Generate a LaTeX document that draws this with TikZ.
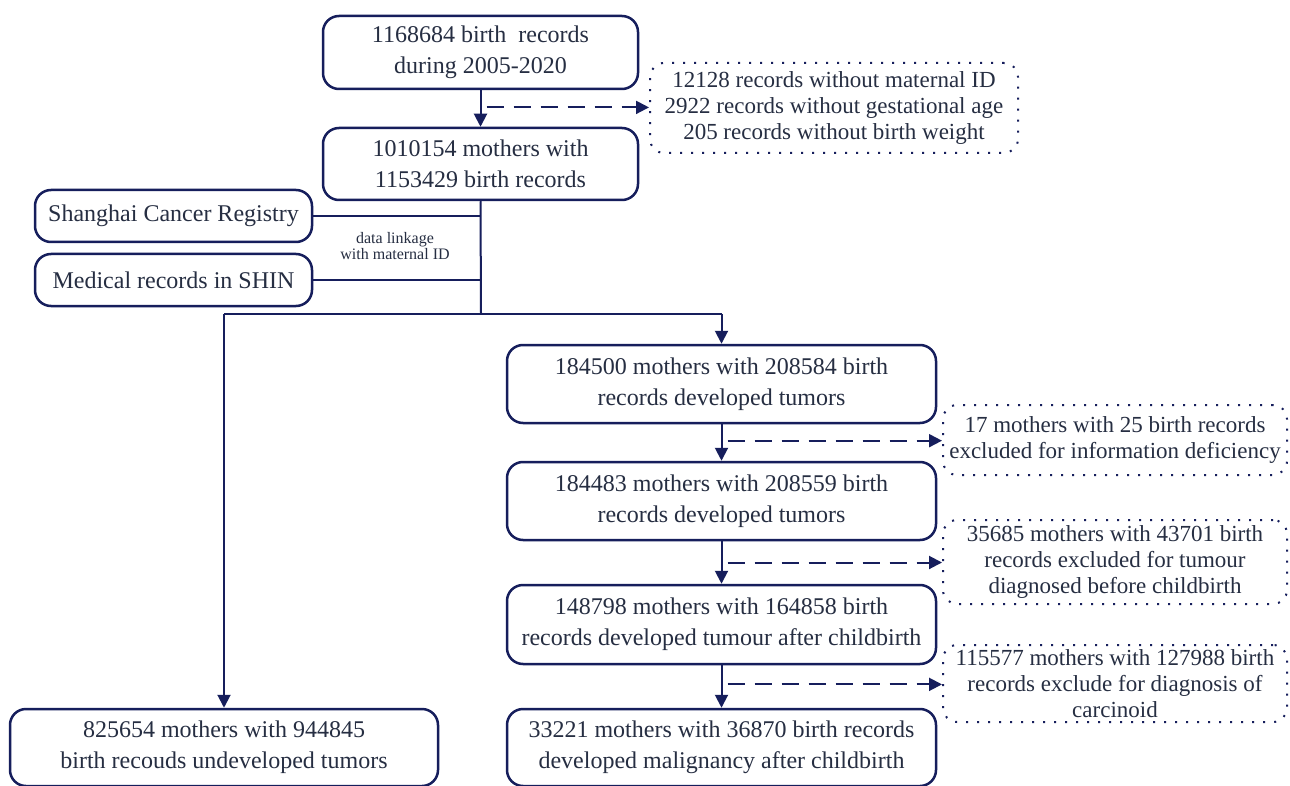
\documentclass[tikz,border=0pt]{standalone}
\usepackage{fontspec}
\setmainfont{Liberation Serif}
\usetikzlibrary{arrows.meta,calc}
\definecolor{lc}{RGB}{22,30,92}
\definecolor{tc}{RGB}{38,46,66}
\begin{document}
\begin{tikzpicture}[x=1pt,y=-1pt,
  box/.style={draw=lc, line width=2.5pt, rounded corners=16pt, align=center, text=tc,
    inner sep=0pt, font=\fontsize{24}{31}\selectfont},
  dbox/.style={draw=lc, line width=2pt, dash pattern=on 2pt off 9pt, rounded corners=14pt,
    align=center, text=tc, inner sep=0pt, font=\fontsize{23}{26}\selectfont},
  conn/.style={draw=lc, line width=2pt},
  arr/.style={conn, -{Triangle[length=13pt,width=13pt]}},
  darr/.style={draw=lc, line width=2pt, dash pattern=on 17pt off 10pt, -{Triangle[length=13pt,width=13pt]}},
  small/.style={text=tc, align=center, inner sep=0pt, font=\fontsize{16}{16}\selectfont}
]
\useasboundingbox (0,0) rectangle (1290,786);
\fill[white] (0,0) rectangle (1290,786);

\node[box, minimum width=315pt, minimum height=73pt] (A) at (480.5,52.5) {1168684 birth\ \ records\\during 2005-2020};
\node[box, minimum width=315pt, minimum height=72pt] (B) at (480.5,164) {1010154 mothers with\\1153429 birth records};
\node[dbox, minimum width=368pt, minimum height=90pt] (D1) at (834,108) {12128 records without maternal ID\\2922 records without gestational age\\205 records without birth weight};

\node[box, minimum width=277pt, minimum height=52pt] (SCR) at (173.5,216) {Shanghai Cancer Registry};
\node[box, minimum width=277pt, minimum height=52pt] (MED) at (173.5,280) {Medical records in SHIN};
\node[small] (lbl) at (395,246) {data linkage\\with maternal ID};

\node[box, minimum width=429pt, minimum height=78pt] (C) at (721.5,384) {184500 mothers with 208584 birth\\records developed tumors};
\node[box, minimum width=429pt, minimum height=78pt] (E) at (721.5,501) {184483 mothers with 208559 birth\\records developed tumors};
\node[box, minimum width=429pt, minimum height=79pt] (F) at (721.5,624.5) {148798 mothers with 164858 birth\\records developed tumour after childbirth};
\node[box, minimum width=429pt, minimum height=77pt] (G) at (721.5,747.5) {33221 mothers with 36870 birth records\\developed malignancy after childbirth};
\node[box, minimum width=428pt, minimum height=77pt] (H) at (224,747.5) {825654 mothers with 944845\\birth recouds undeveloped tumors};

\node[dbox, minimum width=344pt, minimum height=70pt] (D2) at (1115,440) {17 mothers with 25 birth records\\excluded for information deficiency};
\node[dbox, minimum width=344pt, minimum height=84pt] (D3) at (1115,562) {35685 mothers with 43701 birth\\records excluded for tumour\\diagnosed before childbirth};
\node[dbox, minimum width=344pt, minimum height=77pt] (D4) at (1115,683.5) {115577 mothers with 127988 birth\\records exclude for diagnosis of\\carcinoid};

% main flow
\draw[arr] (A) -- (B);
\coordinate (m1) at ($(A.south)!0.47!(B.north)+(6,0)$);
\draw[darr] (m1) -- (m1 -| D1.west);

\coordinate (j) at (481,314);
\draw[conn] (B.south) -- (j);
\draw[conn] (SCR.east) -- (SCR.east -| j);
\draw[conn] (MED.east) -- (MED.east -| j);
\draw[conn] (j -| H) -- (j -| C);
\draw[arr] (j -| H) -- (H);
\draw[arr] (j -| C) -- (C);

\draw[arr] (C) -- (E);
\coordinate (m2) at ($(C.south)!0.45!(E.north)+(6,0)$);
\draw[darr] (m2) -- (m2 -| D2.west);
\draw[arr] (E) -- (F);
\coordinate (m3) at ($(E.south)!0.5!(F.north)+(6,0)$);
\draw[darr] (m3) -- (m3 -| D3.west);
\draw[arr] (F) -- (G);
\coordinate (m4) at ($(F.south)!0.45!(G.north)+(6,0)$);
\draw[darr] (m4) -- (m4 -| D4.west);
\end{tikzpicture}
\end{document}
